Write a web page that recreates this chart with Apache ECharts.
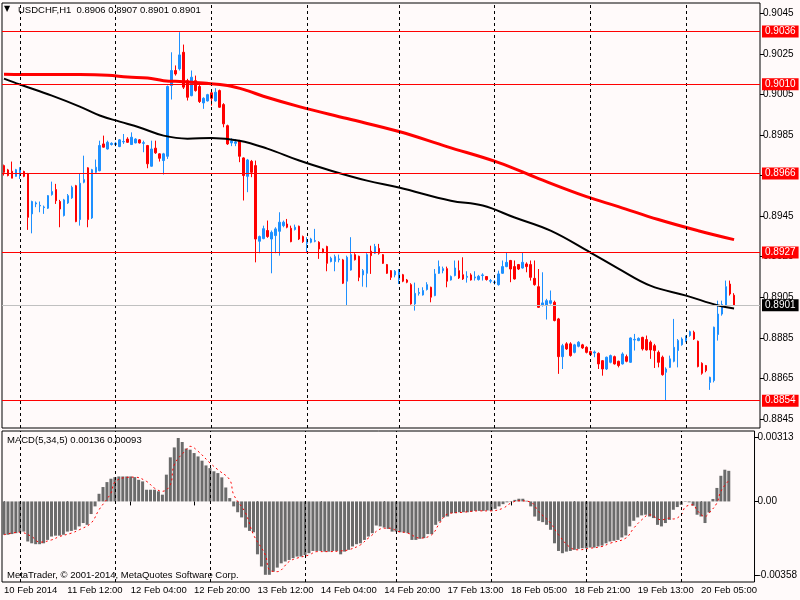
<!DOCTYPE html>
<html>
<head>
<meta charset="utf-8">
<title>USDCHF,H1</title>
<script src="https://cdn.jsdelivr.net/npm/echarts@6/dist/echarts.min.js"></script>
<style>
html,body{margin:0;padding:0;background:#fffafa;}
#main{width:800px;height:600px;}
</style>
</head>
<body>
<div id="main"></div>
<script>
// ---- price bars, H1, from 10 Feb 20:00 ----
var open = [.89699,.89678,.89671,.89646,.89663,.89670,.89658,.89461,.89510,.89500,.89492,.89489,.89556,.89581,.89522,.89453,.89515,.89540,.89600,.89433,
.89617,.89688,.89441,.89666,.89674,.89806,.89781,.89803,.89803,.89793,.89816,.89830,.89803,.89811,.89826,.89809,.89798,.89696,.89785,.89757,
.89724,.89745,.90094,.90168,.90176,.90258,.90118,.90044,.90118,.90089,.90008,.90018,.90058,.90018,.90069,.90000,.89896,.89811,.89809,.89822,
.89737,.89646,.89720,.89699,.89326,.89339,.89379,.89337,.89354,.89375,.89403,.89411,.89390,.89384,.89400,.89349,.89316,.89321,.89326,.89321,
.89288,.89300,.89226,.89226,.89235,.89234,.89129,.89184,.89260,.89252,.89160,.89168,.89277,.89267,.89291,.89260,.89211,.89181,.89160,.89137,
.89161,.89135,.89112,.89017,.89069,.89061,.89088,.89099,.89058,.89168,.89181,.89191,.89135,.89157,.89181,.89161,.89148,.89160,.89145,.89137,
.89157,.89152,.89129,.89122,.89112,.89168,.89201,.89231,.89201,.89211,.89194,.89214,.89211,.89143,.89102,.89009,.89009,.89020,.89025,.88943,
.88757,.88820,.88820,.88778,.88808,.88815,.88803,.88782,.88775,.88773,.88737,.88696,.88729,.88757,.88734,.88721,.88757,.88729,.88839,.88836,
.88852,.88841,.88828,.88811,.88778,.88754,.88680,.88704,.88734,.88787,.88816,.88836,.88861,.88877,.88833,.88724,.88713,.88630,.88639,.88866,
.88967,.89009,.89115,.8906];
var high = [.89704,.89683,.89719,.89683,.89691,.89674,.89663,.89526,.89522,.89522,.89502,.89554,.89620,.89609,.89530,.89535,.89559,.89600,.89604,.89658,
.89748,.89691,.89683,.89729,.89822,.89847,.89822,.89814,.89816,.89830,.89855,.89839,.89863,.89834,.89830,.89822,.89801,.89822,.89822,.89760,
.89762,.90094,.90258,.90193,.90357,.90296,.90127,.90168,.90143,.90097,.90036,.90053,.90064,.90081,.90074,.90007,.89901,.89834,.89830,.89826,
.89740,.89732,.89727,.89724,.89354,.89403,.89428,.89379,.89395,.89469,.89428,.89436,.89403,.89408,.89403,.89354,.89346,.89343,.89387,.89326,
.89291,.89304,.89250,.89260,.89260,.89239,.89255,.89346,.89267,.89255,.89189,.89267,.89304,.89313,.89313,.89263,.89214,.89184,.89184,.89189,
.89165,.89140,.89119,.89122,.89096,.89099,.89124,.89102,.89189,.89231,.89201,.89201,.89157,.89231,.89231,.89247,.89178,.89168,.89178,.89160,
.89168,.89153,.89140,.89135,.89181,.89231,.89272,.89234,.89231,.89214,.89272,.89222,.89231,.89231,.89189,.89173,.89042,.89083,.89033,.88948,
.88820,.88828,.88828,.88820,.88833,.88820,.88808,.88787,.88787,.88778,.88740,.88757,.88767,.88762,.88737,.88778,.88767,.88852,.88869,.88852,
.88855,.88861,.88836,.88820,.88787,.88762,.88704,.88762,.88943,.88844,.88852,.88861,.88885,.88885,.88836,.88729,.88716,.88658,.88905,.89033,
.89033,.89132,.89132,.8907];
var low = [.89650,.89646,.89637,.89645,.89633,.89642,.89382,.89365,.89494,.89469,.89461,.89485,.89551,.89510,.89395,.89448,.89510,.89535,.89420,.89403,
.89612,.89395,.89436,.89663,.89671,.89788,.89778,.89798,.89795,.89790,.89806,.89811,.89801,.89809,.89808,.89765,.89686,.89694,.89757,.89719,
.89655,.89732,.90025,.90143,.90168,.90077,.90020,.90041,.90064,.90008,.89979,.90015,.89995,.90015,.89984,.89888,.89801,.89795,.89795,.89716,
.89527,.89568,.89642,.89222,.89267,.89336,.89343,.89168,.89267,.89255,.89395,.89390,.89321,.89379,.89332,.89318,.89272,.89316,.89321,.89239,
.89267,.89178,.89222,.89178,.89222,.89115,.89010,.89181,.89231,.89129,.89102,.89099,.89165,.89263,.89260,.89214,.89165,.89135,.89148,.89115,
.89124,.89119,.89013,.88984,.89058,.89058,.89083,.89025,.89055,.89165,.89168,.89099,.89132,.89153,.89140,.89135,.89122,.89132,.89132,.89132,
.89132,.89132,.89119,.89112,.89107,.89165,.89198,.89124,.89137,.89184,.89191,.89173,.89132,.89107,.88997,.89004,.88940,.89014,.88931,.88672,
.88696,.88790,.88757,.88773,.88803,.88795,.88773,.88762,.88754,.88696,.88663,.88691,.88724,.88718,.88704,.88718,.88729,.88726,.88787,.88833,
.88787,.88787,.88746,.88701,.88704,.88663,.88540,.88701,.88729,.88704,.88811,.88828,.88855,.88839,.88704,.88668,.88680,.88593,.88630,.88836,
.88959,.89004,.89058,.8901];
var close = [.89666,.89650,.89637,.89679,.89683,.89646,.89444,.89522,.89515,.89503,.89495,.89551,.89571,.89526,.89485,.89530,.89551,.89592,.89423,.89612,
.89630,.89433,.89679,.89691,.89798,.89790,.89814,.89809,.89809,.89826,.89818,.89814,.89839,.89830,.89811,.89812,.89708,.89781,.89762,.89735,
.89757,.90089,.90168,.90151,.90245,.90086,.90036,.90135,.90069,.90015,.90031,.90049,.90031,.90061,.89987,.89905,.89806,.89821,.89816,.89745,
.89650,.89727,.89666,.89337,.89349,.89388,.89349,.89370,.89387,.89420,.89420,.89395,.89324,.89395,.89337,.89324,.89321,.89337,.89329,.89288,
.89272,.89217,.89242,.89250,.89239,.89119,.89247,.89260,.89235,.89148,.89181,.89260,.89255,.89300,.89267,.89217,.89168,.89148,.89178,.89178,
.89129,.89124,.89017,.89069,.89073,.89083,.89112,.89050,.89165,.89201,.89191,.89129,.89152,.89194,.89145,.89140,.89153,.89135,.89150,.89153,
.89160,.89137,.89132,.89125,.89165,.89201,.89222,.89189,.89140,.89189,.89222,.89201,.89148,.89112,.89000,.89022,.89033,.89033,.88935,.88757,
.88811,.88795,.88762,.88815,.88828,.88800,.88778,.88767,.88780,.88721,.88696,.88754,.88762,.88721,.88713,.88770,.88734,.88849,.88842,.88847,
.88795,.88790,.88790,.88787,.88729,.88668,.88696,.88746,.88803,.88836,.88844,.88849,.88880,.88844,.88708,.88675,.88688,.88655,.88902,.88967,
.89014,.89102,.89066,.8901];

// moving averages, read at selected bars
var redMaIdx = [0, 9, 19, 26, 31, 36, 40, 45, 50, 56, 61, 65, 74, 86, 99, 111, 124, 134, 146, 154, 164, 174, 183];
var redMaVal = [.90150,.90148,.90148,.90145,.90136,.90131,.90118,.90113,.90106,.90094,.90069,.90041,.89990,.89931,.89867,.89793,.89714,.89635,.89546,.89497,.89433,.89378,.89334];
var blackMaIdx = [0, 4, 12, 19, 24, 29, 34, 40, 46, 52, 59, 66, 74, 82, 91, 99, 112, 120, 128, 137, 147, 154, 162, 171, 179, 183];
var blackMaVal = [.90128,.90099,.90044,.89990,.89946,.89916,.89887,.89847,.89832,.89835,.89822,.89783,.89724,.89674,.89625,.89591,.89526,.89502,.89443,.89378,.89270,.89191,.89107,.89058,.89009,.88994];

// MACD(5,34,5)
var macdHist = [-.00148,-.00148,-.00145,-.00141,-.00137,-.00134,-.00178,-.00186,-.00190,-.00190,-.00186,-.00171,-.00156,-.00152,-.00152,-.00148,-.00134,-.00131,-.00126,-.00111,
-.00096,-.00104,-.00056,-.00022,.00034,.00064,.00086,.00101,.00108,.00111,.00111,.00111,.00111,.00108,.00096,.00089,.00052,.00052,.00052,.00045,
.00030,.00119,.00196,.00240,.00282,.00264,.00235,.00230,.00215,.00200,.00181,.00160,.00148,.00134,.00126,.00107,.00062,.00015,-.00022,-.00048,
-.00071,-.00116,-.00131,-.00137,-.00235,-.00289,-.00326,-.00326,-.00312,-.00294,-.00275,-.00267,-.00260,-.00252,-.00245,-.00245,-.00238,-.00230,-.00220,-.00220,
-.00220,-.00223,-.00223,-.00220,-.00220,-.00235,-.00223,-.00215,-.00200,-.00190,-.00186,-.00171,-.00156,-.00141,-.00107,-.00111,-.00116,-.00122,-.00134,-.00134,
-.00137,-.00138,-.00141,-.00171,-.00171,-.00166,-.00163,-.00145,-.00145,-.00104,-.00089,-.00071,-.00067,-.00052,-.00052,-.00048,-.00048,-.00048,-.00045,-.00042,
-.00042,-.00042,-.00040,-.00042,-.00033,-.00022,-.00012,-.00004,.00002,.00007,.00012,.00012,.00003,-.00022,-.00067,-.00086,-.00092,-.00104,-.00126,-.00186,
-.00220,-.00230,-.00223,-.00220,-.00215,-.00211,-.00208,-.00208,-.00205,-.00205,-.00200,-.00196,-.00186,-.00178,-.00175,-.00171,-.00160,-.00151,-.00111,-.00086,
-.00071,-.00062,-.00059,-.00067,-.00074,-.00104,-.00111,-.00096,-.00082,-.00037,-.00025,-.00015,.00002,-.00004,-.00019,-.00059,-.00067,-.00096,-.00049,.00011,
.00060,.00114,.00141,.00136];
var signalIdx = [0, 4, 7, 9, 12, 14, 17, 19, 22, 24, 27, 28, 31, 33, 36, 38, 40, 42, 43, 46, 47, 49, 52, 54, 57, 58, 61, 63, 66, 67, 69, 72, 74, 77, 79, 82, 85, 87, 90, 92, 96, 98,
  99, 102, 105, 108, 110, 112, 116, 120, 123, 126, 128, 130, 133, 135, 138, 140, 143, 145, 148, 151, 153, 157, 159, 161, 163, 166, 168, 169, 171, 172, 174, 175, 177, 178, 180, 181, 183];
var signalVal = [-.00148,-.00137,-.00156,-.00181,-.00171,-.00156,-.00141,-.00126,-.00096,-.00037,.00037,.00086,.00107,.00108,.00089,.00059,.00045,.00074,.00163,.00230,.00245,.00223,.00171,.00141,.00096,.00030,-.00052,-.00148,-.00238,-.00304,-.00312,-.00267,-.00252,-.00238,-.00223,-.00223,-.00220,-.00215,-.00193,-.00163,-.00119,-.00119,
  -.00131,-.00141,-.00163,-.00148,-.00096,-.00056,-.00048,-.00042,-.00042,-.00030,-.00007,.00003,-.00003,-.00045,-.00096,-.00148,-.00205,-.00215,-.00208,-.00200,-.00186,-.00163,-.00119,-.00082,-.00059,-.00082,-.00074,-.00078,-.00059,-.00025,-.00015,-.00040,-.00067,-.00052,-.00007,.00045,.00093];

// levels, ticks and labels
var levelLines = [0.9036, 0.9010, 0.8966, 0.8927, 0.8854];
var bidPrice = 0.8901;
var priceTicks = [0.9045, 0.9025, 0.9005, 0.8985, 0.8965, 0.8945, 0.8925, 0.8905, 0.8885, 0.8865, 0.8845];
var macdTickVals = [0.00284, 0, -0.00326];
var macdTickText = ['0.00313', '0.00', '-0.00358'];
var dayLineIdx = [4, 28, 52, 76, 99, 123, 147, 171];
var xLabelIdx = [0, 16, 32, 48, 64, 80, 96, 112, 128, 144, 160, 176];
var xLabelText = ['10 Feb 2014', '11 Feb 12:00', '12 Feb 04:00', '12 Feb 20:00', '13 Feb 12:00', '14 Feb 04:00',
  '14 Feb 20:00', '17 Feb 13:00', '18 Feb 05:00', '18 Feb 21:00', '19 Feb 13:00', '20 Feb 05:00'];
var slotCount = 190;

var font = '"Liberation Sans", Arial, sans-serif';
var cats = [];
for (var i = 0; i < slotCount; i++) cats.push(String(i));

var candles = open.map(function (o, i) { return [o, close[i], low[i], high[i]]; });
function pairs(idx, val) { return idx.map(function (x, k) { return [x, val[k]]; }); }
function isLabelIdx(index) { return xLabelIdx.indexOf(index) >= 0; }

var dayLines = dayLineIdx.map(function (x) {
  return { xAxis: x, lineStyle: { color: '#000', type: [3, 3], width: 1 }, label: { show: false } };
});
function levelMark(v, lineColor, boxColor) {
  return {
    yAxis: v,
    lineStyle: { color: lineColor, type: 'solid', width: 1 },
    label: { show: true, position: 'end', distance: 2, formatter: v.toFixed(4), color: '#fff',
      backgroundColor: boxColor, padding: [1, 3, 0, 3], fontSize: 10, fontFamily: font, lineHeight: 11 }
  };
}
var levelMarks = [levelMark(bidPrice, '#c0c0c0', '#000')];
levelLines.forEach(function (v) { levelMarks.push(levelMark(v, '#ff0000', '#ff0000')); });

var chart = echarts.init(document.getElementById('main'));
chart.setOption({
  animation: false,
  backgroundColor: '#fffafa',
  textStyle: { fontFamily: font },
  title: [
    { text: '\u25BC', left: 4, top: 5, padding: 0, textStyle: { fontSize: 8, color: '#000', fontWeight: 'normal', fontFamily: 'DejaVu Sans' } },
    { text: 'USDCHF,H1  0.8906 0.8907 0.8901 0.8901', left: 18, top: 5, padding: 0, textStyle: { fontSize: 9.5, color: '#000', fontWeight: 'normal' } },
    { text: 'MACD(5,34,5) 0.00136 0.00093', left: 7, top: 435, padding: 0, textStyle: { fontSize: 9.5, color: '#000', fontWeight: 'normal' } },
    { text: 'MetaTrader, \u00A9 2001-2014, MetaQuotes Software Corp.', left: 7, top: 570, padding: 0, textStyle: { fontSize: 9.5, color: '#000', fontWeight: 'normal' } }
  ],
  grid: [
    { left: 2, right: 40, top: 3, height: 425, show: true, borderColor: '#000', borderWidth: 1, backgroundColor: '#fffafa' },
    { left: 2, right: 40, top: 431, height: 151, show: true, borderColor: '#000', borderWidth: 1, backgroundColor: '#fffafa' }
  ],
  xAxis: [
    { type: 'category', gridIndex: 0, data: cats, boundaryGap: true,
      axisLine: { show: false }, axisTick: { show: false }, axisLabel: { show: false }, splitLine: { show: false } },
    { type: 'category', gridIndex: 1, data: cats, boundaryGap: true,
      axisLine: { show: false },
      axisTick: { show: true, alignWithLabel: true, length: 4, interval: function (index) { return isLabelIdx(index); }, lineStyle: { color: '#000' } },
      axisLabel: { show: true, align: 'left', margin: 3, color: '#000', fontSize: 9.5,
        interval: function (index) { return isLabelIdx(index); },
        formatter: function (value) { var k = xLabelIdx.indexOf(Number(value)); return k >= 0 ? xLabelText[k] : ''; } },
      splitLine: { show: false } }
  ],
  yAxis: [
    { type: 'value', gridIndex: 0, position: 'right', min: 0.88405, max: 0.90501,
      axisLine: { show: false }, splitLine: { show: false },
      axisTick: { show: true, length: 4, customValues: priceTicks, lineStyle: { color: '#000' } },
      axisLabel: { customValues: priceTicks, margin: 3, color: '#000', fontSize: 10,
        formatter: function (v) { return v.toFixed(4); } } },
    { type: 'value', gridIndex: 1, position: 'right', min: -0.00358, max: 0.00313,
      axisLine: { show: false }, splitLine: { show: false },
      axisTick: { show: true, length: 4, customValues: macdTickVals, lineStyle: { color: '#000' } },
      axisLabel: { customValues: macdTickVals, margin: 3, color: '#000', fontSize: 10,
        formatter: function (v) {
          for (var k = 0; k < macdTickVals.length; k++) if (Math.abs(v - macdTickVals[k]) < 1e-7) return macdTickText[k];
          return '';
        } } }
  ],
  series: [
    { type: 'line', xAxisIndex: 0, yAxisIndex: 0, data: [], z: 1, silent: true,
      markLine: { symbol: ['none', 'none'], silent: true, data: dayLines } },
    { type: 'candlestick', xAxisIndex: 0, yAxisIndex: 0, data: candles, barWidth: 2,
      itemStyle: { color: '#1e90ff', color0: '#ff0000', borderColor: '#1e90ff', borderColor0: '#ff0000', borderWidth: 1 } },
    { type: 'line', xAxisIndex: 0, yAxisIndex: 0, data: [], z: 4, silent: true,
      markLine: { symbol: ['none', 'none'], silent: true, precision: 5, data: levelMarks } },
    { type: 'line', xAxisIndex: 0, yAxisIndex: 0, data: pairs(redMaIdx, redMaVal), smooth: 0.4, showSymbol: false,
      lineStyle: { color: '#ff0000', width: 3 }, z: 3 },
    { type: 'line', xAxisIndex: 0, yAxisIndex: 0, data: pairs(blackMaIdx, blackMaVal), smooth: 0.4, showSymbol: false,
      lineStyle: { color: '#000', width: 2 }, z: 3 },
    { type: 'bar', xAxisIndex: 1, yAxisIndex: 1, data: macdHist, barWidth: 3,
      itemStyle: { color: '#6b6b6b' },
      markLine: { symbol: ['none', 'none'], silent: true, data: dayLines } },
    { type: 'line', xAxisIndex: 1, yAxisIndex: 1, data: pairs(signalIdx, signalVal), smooth: 0.4, showSymbol: false,
      lineStyle: { color: '#ff0000', width: 1, type: [2, 3] }, z: 3 }
  ]
});
</script>
</body>
</html>
